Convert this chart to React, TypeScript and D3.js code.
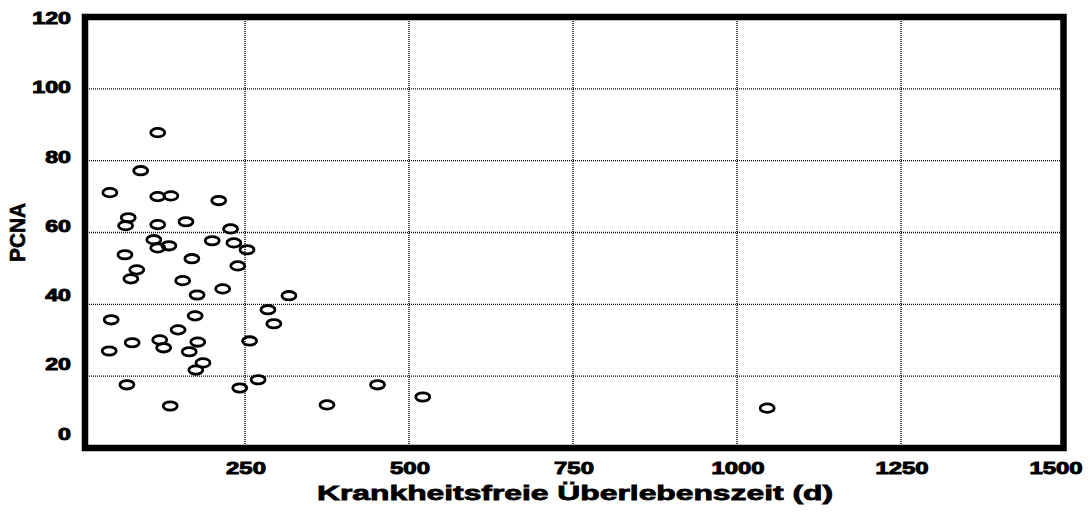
import React from "react";
import * as d3 from "d3";

const survivalDays: number[] = [
  117, 91, 44, 117, 137, 210, 72, 68, 117, 160, 228, 111, 117, 134, 200, 233,
  253, 67, 169, 239, 85, 76, 155, 216, 177, 317, 46, 174, 285, 294, 148, 78,
  120, 178, 257, 43, 126, 165, 186, 175, 270, 70, 242, 136, 375, 452, 521, 1046,
];
const pcnaValues: number[] = [
  87.8, 77.2, 71.1, 70.0, 70.2, 68.9, 64.1, 61.9, 62.2, 63.0, 61.0, 58.0, 55.7,
  56.3, 57.7, 57.1, 55.2, 53.8, 52.7, 50.7, 49.6, 47.1, 46.6, 44.3, 42.6, 42.4,
  35.7, 36.8, 38.5, 34.6, 32.9, 29.3, 30.1, 29.5, 29.8, 27.0, 27.9, 26.8, 23.7,
  21.7, 19.0, 17.6, 16.7, 11.7, 12.0, 17.6, 14.2, 11.1,
];
const xTicks: number[] = [250, 500, 750, 1000, 1250, 1500];
const yTicks: number[] = [0, 20, 40, 60, 80, 100, 120];
const xGrid: number[] = [250, 500, 750, 1000, 1250];
const yGrid: number[] = [20, 40, 60, 80, 100];
const xTitle = "Krankheitsfreie Überlebenszeit (d)";
const yTitle = "PCNA";

const W = 1091;
const H = 512;
const FONT = "'Liberation Sans', Arial, Helvetica, sans-serif";

export default function App() {
  const x = d3.scaleLinear().domain([0, 1500]).range([81, 1065]);
  const y = d3.scaleLinear().domain([0, 120]).range([448, 17]);
  const yLabel = d3.scaleLinear().domain([0, 120]).range([434, 18.5]);

  const frame = { x0: 85, y0: 17, x1: 1063.5, y1: 448 };

  return (
    <svg
      width={W}
      height={H}
      style={{ position: "absolute", left: 0, top: 0, background: "#fff" }}
      fontFamily={FONT}
    >
      <rect x={0} y={0} width={W} height={H} fill="#fff" />
      {/* grid */}
      {yGrid.map((v) => (
        <line
          key={"yg" + v}
          x1={frame.x0}
          x2={frame.x1}
          y1={y(v)}
          y2={y(v)}
          stroke="#000"
          strokeWidth={1.4}
          strokeDasharray="1,1"
        />
      ))}
      {xGrid.map((v) => (
        <line
          key={"xg" + v}
          x1={x(v)}
          x2={x(v)}
          y1={frame.y0}
          y2={frame.y1}
          stroke="#000"
          strokeWidth={1.4}
          strokeDasharray="1,1"
        />
      ))}
      {/* points */}
      {survivalDays.map((d, i) => (
        <ellipse
          key={"p" + i}
          cx={x(d)}
          cy={y(pcnaValues[i])}
          rx={7}
          ry={4.2}
          fill="none"
          stroke="#000"
          strokeWidth={2.8}
        />
      ))}
      {/* frame */}
      <rect
        x={frame.x0}
        y={frame.y0}
        width={frame.x1 - frame.x0}
        height={frame.y1 - frame.y0}
        fill="none"
        stroke="#000"
        strokeWidth={6.5}
      />
      {/* y tick labels */}
      {yTicks.map((v) => (
        <text
          key={"yt" + v}
          transform={`translate(71,${yLabel(v)}) scale(1.45,1)`}
          textAnchor="end"
          dominantBaseline="central"
          fontSize={16}
          fontWeight="bold"
          fill="#000"
          stroke="#000"
          strokeWidth={0.9}
        >
          {v}
        </text>
      ))}
      {/* x tick labels */}
      {xTicks.map((v) => (
        <text
          key={"xt" + v}
          transform={`translate(${Math.min(x(v) + 1, 1056)},468) scale(1.45,1)`}
          textAnchor="middle"
          dominantBaseline="central"
          fontSize={16.5}
          fontWeight="bold"
          fill="#000"
          stroke="#000"
          strokeWidth={0.9}
        >
          {v}
        </text>
      ))}
      {/* axis titles */}
      <text
        x={317}
        y={500}
        textLength={516}
        lengthAdjust="spacingAndGlyphs"
        fontSize={21}
        fontWeight="bold"
        fill="#000"
        stroke="#000"
        strokeWidth={0.8}
      >
        {xTitle}
      </text>
      <text
        transform="translate(25,262) rotate(-90)"
        textLength={59}
        lengthAdjust="spacingAndGlyphs"
        fontSize={22}
        fontWeight="bold"
        fill="#000"
        stroke="#000"
        strokeWidth={0.6}
      >
        {yTitle}
      </text>
    </svg>
  );
}
